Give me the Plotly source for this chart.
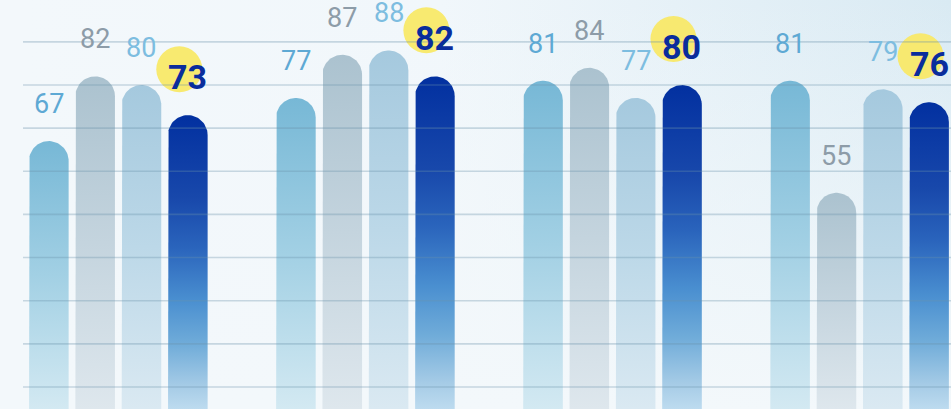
import numpy as np
import plotly.graph_objects as go

# ---------------- data ----------------
categories = ["Group 1", "Group 2", "Group 3", "Group 4"]
series_names = ["Series A", "Series B", "Series C", "Series D"]
series_a = [67, 77, 81, 81]
series_b = [82, 87, 84, 55]
series_c = [80, 88, 77, 79]
series_d = [73, 82, 80, 76]
grid_values = [10, 20, 30, 40, 50, 60, 70, 80, 90]

# ---------------- styling ----------------
W, H = 951, 409
ML = 23
X_RANGE = [-0.3857, 3.370]
Y_RANGE = [4.9, 99.7]
PX_X = (W - ML) / (X_RANGE[1] - X_RANGE[0])
PX_Y = H / (Y_RANGE[1] - Y_RANGE[0])

SLOT = 0.75 / 4
BAR_W = SLOT * 0.855

FONT = "Roboto, DejaVu Sans Condensed, sans-serif"

styles = [
    dict(scale=[[0, "#d3e9f2"], [0.5, "#a2d0e4"], [1, "#77b8d6"]], label="#5ea9d4", size=27, bold=False),
    dict(scale=[[0, "#dee7ed"], [0.5, "#c4d4de"], [1, "#abc2cf"]], label="#8d9ca8", size=27, bold=False),
    dict(scale=[[0, "#dae9f2"], [0.5, "#bcd8e8"], [1, "#a5c9de"]], label="#7dbde0", size=27, bold=False),
    dict(scale=[[0, "#bddbef"], [0.08, "#a5cbe6"], [0.22, "#70acd9"], [0.37, "#4a8fd0"],
                [0.55, "#2a64bc"], [0.72, "#1848ab"], [1, "#0230a0"]], label="#0a2d9c", size=34, bold=True),
]

all_series = [series_a, series_b, series_c, series_d]

fig = go.Figure()

# background gradient (diagonal feel via two layers)
bx = [X_RANGE[0], X_RANGE[1], X_RANGE[1], X_RANGE[0], X_RANGE[0]]
by = [Y_RANGE[0], Y_RANGE[0], Y_RANGE[1], Y_RANGE[1], Y_RANGE[0]]
fig.add_trace(go.Scatter(
    x=bx, y=by, mode="lines", fill="toself", line=dict(width=0),
    fillgradient=dict(type="horizontal", start=X_RANGE[0], stop=X_RANGE[1],
                      colorscale=[[0, "#f3f8fb"], [0.45, "#f1f7fb"], [1, "#d9eaf3"]]),
    hoverinfo="skip"))
fig.add_trace(go.Scatter(
    x=bx, y=by, mode="lines", fill="toself", line=dict(width=0),
    fillgradient=dict(type="vertical", start=Y_RANGE[0], stop=Y_RANGE[1],
                      colorscale=[[0, "rgba(243,248,251,1)"], [0.5, "rgba(243,248,251,0.55)"],
                                  [1, "rgba(243,248,251,0)"]]),
    hoverinfo="skip"))


def bar_path(xc, v):
    r_px = BAR_W * PX_X / 2
    ry = r_px / PX_Y
    bottom = Y_RANGE[0] - 5
    t = np.linspace(np.pi, 0, 40)
    xs = [xc - BAR_W / 2] + list(xc + BAR_W / 2 * np.cos(t)) + [xc + BAR_W / 2, xc - BAR_W / 2]
    ys = [bottom] + list(v - ry + ry * np.sin(t)) + [bottom, bottom]
    return xs, ys


annotations = []
circ_x, circ_y = [], []
for si, (vals, st) in enumerate(zip(all_series, styles)):
    for gi, v in enumerate(vals):
        xc = gi + (si - 1.5) * SLOT
        xs, ys = bar_path(xc, v)
        fig.add_trace(go.Scatter(
            x=xs, y=ys, mode="lines", fill="toself", line=dict(width=0),
            fillgradient=dict(type="vertical", start=Y_RANGE[0], stop=v, colorscale=st["scale"]),
            name=series_names[si], hoverinfo="skip"))
        txt = f"<b>{v}</b>" if st["bold"] else str(v)
        annotations.append(dict(
            x=xc, y=v, xref="x", yref="y", text=txt, showarrow=False,
            yanchor="middle", xanchor="center", yshift=38 if st["bold"] else 37,
            font=dict(family=FONT, size=st["size"], color=st["label"])))
        if st["bold"]:
            circ_x.append(xc - 8.5 / PX_X)
            circ_y.append(v + 46 / PX_Y)

fig.add_trace(go.Scatter(
    x=circ_x, y=circ_y, mode="markers",
    marker=dict(size=46, color="rgba(249,232,100,0.92)", line=dict(width=0)),
    hoverinfo="skip"))

shapes = [dict(type="line", xref="paper", yref="y", x0=0, x1=1, y0=g, y1=g, layer="above",
               line=dict(color="rgba(105,145,170,0.33)", width=1.6)) for g in grid_values]

fig.update_layout(
    width=W, height=H,
    margin=dict(l=ML, r=0, t=0, b=0),
    paper_bgcolor="#f3f8fb", plot_bgcolor="#f3f8fb",
    showlegend=False, hovermode=False,
    xaxis=dict(range=X_RANGE, visible=False, fixedrange=True),
    yaxis=dict(range=Y_RANGE, visible=False, fixedrange=True),
    shapes=shapes, annotations=annotations,
)

fig.write_html("out.html", config={"displayModeBar": False},
               post_script="document.body.style.margin='0';document.body.style.padding='0';"
                           "document.body.style.overflow='hidden';")
